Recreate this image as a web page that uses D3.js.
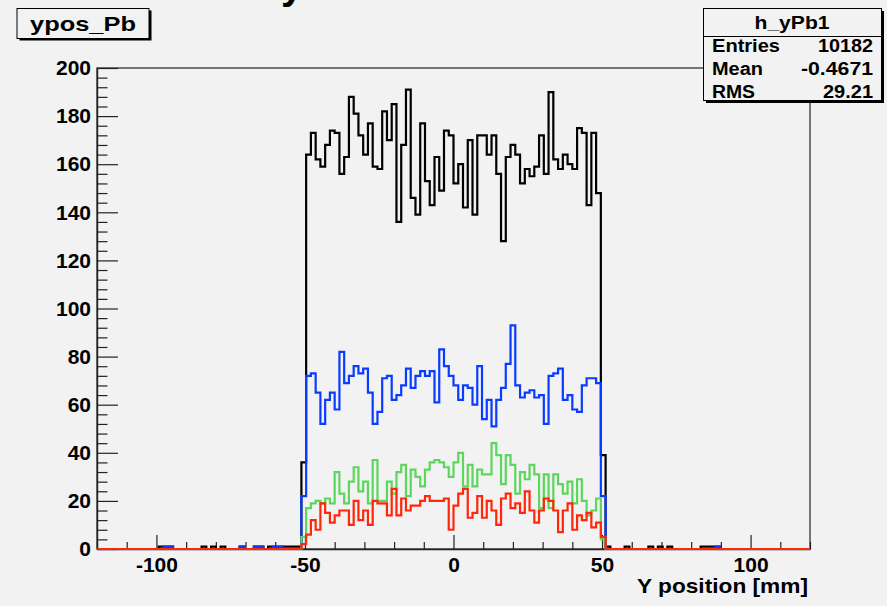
<!DOCTYPE html>
<html>
<head>
<meta charset="utf-8">
<script src="https://cdn.jsdelivr.net/npm/d3@7"></script>
<style>
  body { margin: 0; background: #f2f2f2; }
  svg { display: block; }
  text { font-family: "Liberation Sans", Arial, sans-serif; font-weight: bold; fill: #000; }
</style>
</head>
<body>
<svg id="chart" width="887" height="606"></svg>
<script>
// histogram binning: 150 bins of 1.6 mm from -120 to 120
const binLow = -120, binWidth = 1.6, nBins = 150;
const firstBin = 43; // first bin of the filled region (partial edge bin)

// counts for bins 43..106
const blackCounts = [36,
  164,173,162,159,168,174,173,156,163,188,
  181,172,164,177,159,158,182,170,185,136,
  168,191,146,139,177,153,143,163,149,174,
  172,152,160,142,170,139,172,172,164,172,
  156,128,163,168,164,152,158,155,159,172,
  156,190,162,158,164,160,158,175,173,143,173,148,
  39];
const blueCounts = [22,
  72,73,65,52,62,65,58,82,69,72,
  76,73,75,65,52,57,71,72,62,64,
  68,75,67,72,74,72,74,61,83,76,
  72,68,62,68,67,60,76,54,62,51,
  62,67,77,93,68,63,65,66,63,64,
  52,72,73,75,62,64,58,57,68,71,71,69,
  22];
const greenCounts = [5,
  17,19,20,19,21,19,32,23,19,28,
  34,24,28,19,37,20,20,28,23,32,
  35,22,33,30,26,33,36,37,36,34,
  30,36,40,26,35,26,33,31,31,44,
  39,27,39,35,23,32,29,35,31,17,
  31,17,31,27,23,28,19,29,20,14,16,21,
  4];
const redCounts = [2,
  6,12,8,19,15,11,14,16,16,10,
  20,12,16,10,20,19,19,14,25,14,
  21,16,18,18,20,22,20,20,20,21,
  8,18,23,25,13,15,22,13,20,16,
  10,21,23,17,19,15,24,16,11,16,
  21,20,16,7,16,19,8,14,12,15,9,11,
  5];

// single stray entries outside the detector (bin indices)
const blackStrayBins = [13,14,15,22,24,26,30,33,34,36,37,38,39,40,41,42,107,111,116,118,120,127,128,129,130];
const blueStrayBins = [14,15,30,33,34,37,38,130];

const xMajorTicks = [-100, -50, 0, 50, 100];
const yMajorTicks = [0, 20, 40, 60, 80, 100, 120, 140, 160, 180, 200];

const statsName = "h_yPb1";
const statsRows = [["Entries", "10182"], ["Mean", "-0.4671"], ["RMS", "29.21"]];

const svg = d3.select("#chart");
const W = 887, H = 606;
svg.append("rect").attr("width", W).attr("height", H).attr("fill", "#f2f2f2");

const frame = {left: 97, right: 810, top: 68, bottom: 549};
const x = d3.scaleLinear().domain([-120, 120]).range([frame.left, frame.right]);
const y = d3.scaleLinear().domain([0, 200]).range([frame.bottom, frame.top]);

// frame
svg.append("rect")
  .attr("x", frame.left).attr("y", frame.top)
  .attr("width", frame.right - frame.left).attr("height", frame.bottom - frame.top)
  .attr("fill", "none").attr("stroke", "#555").attr("stroke-width", 1.6);

// x axis
const fmt = d => String(d);
const xMinor = d3.range(-120, 121, 10).filter(v => v % 50 !== 0);
svg.append("g").attr("transform", `translate(0,${frame.bottom})`)
  .call(d3.axisBottom(x).tickValues(xMinor).tickSize(-7).tickSizeOuter(0).tickFormat(""))
  .call(g => g.select(".domain").remove());
const xAx = svg.append("g").attr("transform", `translate(0,${frame.bottom})`)
  .call(d3.axisBottom(x).tickValues(xMajorTicks).tickSize(-14).tickSizeOuter(0).tickPadding(8).tickFormat(fmt));
xAx.select(".domain").attr("stroke", "#222").attr("stroke-width", 1.4);
xAx.selectAll("text").attr("font-size", 21).attr("fill", "#000");

// y axis
const yMinor = d3.range(0, 201, 4).filter(v => v % 20 !== 0);
svg.append("g").attr("transform", `translate(${frame.left},0)`)
  .call(d3.axisLeft(y).tickValues(yMinor).tickSize(-10.5).tickSizeOuter(0).tickFormat(""))
  .call(g => g.select(".domain").remove());
const yAx = svg.append("g").attr("transform", `translate(${frame.left},0)`)
  .call(d3.axisLeft(y).tickValues(yMajorTicks).tickSize(-21).tickSizeOuter(0).tickPadding(6).tickFormat(fmt));
yAx.select(".domain").attr("stroke", "#222").attr("stroke-width", 1.4);
yAx.selectAll("text").attr("font-size", 21).attr("fill", "#000");
svg.selectAll(".tick line").attr("stroke", "#222").attr("stroke-width", 1.2);

// axis title
svg.append("text").attr("x", 808).attr("y", 593).attr("text-anchor", "end")
  .attr("font-size", 21).attr("textLength", 171).attr("lengthAdjust", "spacingAndGlyphs")
  .text("Y position [mm]");

// histograms
function fullCounts(central, stray) {
  const a = new Array(nBins).fill(0);
  stray.forEach(k => { a[k] = 1; });
  central.forEach((v, i) => { a[firstBin + i] = v; });
  return a;
}
function stepPoints(counts) {
  const pts = [[binLow, 0]];
  counts.forEach((v, k) => {
    pts.push([binLow + k * binWidth, v]);
    pts.push([binLow + (k + 1) * binWidth, v]);
  });
  pts.push([binLow + nBins * binWidth, 0]);
  return pts;
}
const line = d3.line().x(d => x(d[0])).y(d => y(d[1]));
const hists = [
  {counts: fullCounts(blackCounts, blackStrayBins), color: "#000000"},
  {counts: fullCounts(blueCounts, blueStrayBins), color: "#0a3cff"},
  {counts: fullCounts(greenCounts, []), color: "#5cd65c"},
  {counts: fullCounts(redCounts, []), color: "#ff260a"}
];
svg.selectAll("path.hist").data(hists).enter().append("path")
  .attr("class", "hist")
  .attr("d", d => line(stepPoints(d.counts)))
  .attr("fill", "none").attr("stroke", d => d.color).attr("stroke-width", 2.2);

// title pave with shadow
svg.append("rect").attr("x", 19.5).attr("y", 10.5).attr("width", 132).attr("height", 30).attr("fill", "#000");
svg.append("rect").attr("x", 17).attr("y", 8.5).attr("width", 132).attr("height", 30)
  .attr("fill", "#f2f2f2").attr("stroke", "#000").attr("stroke-width", 1);
svg.append("text").attr("x", 83).attr("y", 31).attr("text-anchor", "middle")
  .attr("font-size", 21).attr("textLength", 106).attr("lengthAdjust", "spacingAndGlyphs")
  .text("ypos_Pb");

// glyph of a larger heading, clipped by the top edge as in the source
svg.append("text").attr("x", 281).attr("y", -1).attr("font-size", 40).text("y");

// stats box
const sb = {x: 703.5, y: 8.5, w: 178, h: 92};
svg.append("rect").attr("x", sb.x + 2.5).attr("y", sb.y + 2.5).attr("width", sb.w).attr("height", sb.h).attr("fill", "#000");
svg.append("rect").attr("x", sb.x).attr("y", sb.y).attr("width", sb.w).attr("height", sb.h)
  .attr("fill", "#f2f2f2").attr("stroke", "#000").attr("stroke-width", 1);
svg.append("line").attr("x1", sb.x).attr("x2", sb.x + sb.w).attr("y1", 36.5).attr("y2", 36.5)
  .attr("stroke", "#000").attr("stroke-width", 1);
svg.append("text").attr("x", 792).attr("y", 29).attr("text-anchor", "middle")
  .attr("font-size", 19).attr("textLength", 75).attr("lengthAdjust", "spacingAndGlyphs").text(statsName);
const labelW = [68, 51, 43], valueW = [55, 72, 50];
statsRows.forEach((r, i) => {
  const by = 51.5 + i * 23;
  svg.append("text").attr("x", 712).attr("y", by).attr("font-size", 17.5)
    .attr("textLength", labelW[i]).attr("lengthAdjust", "spacingAndGlyphs").text(r[0]);
  svg.append("text").attr("x", 873).attr("y", by).attr("text-anchor", "end").attr("font-size", 17.5)
    .attr("textLength", valueW[i]).attr("lengthAdjust", "spacingAndGlyphs").text(r[1]);
});
</script>
</body>
</html>
